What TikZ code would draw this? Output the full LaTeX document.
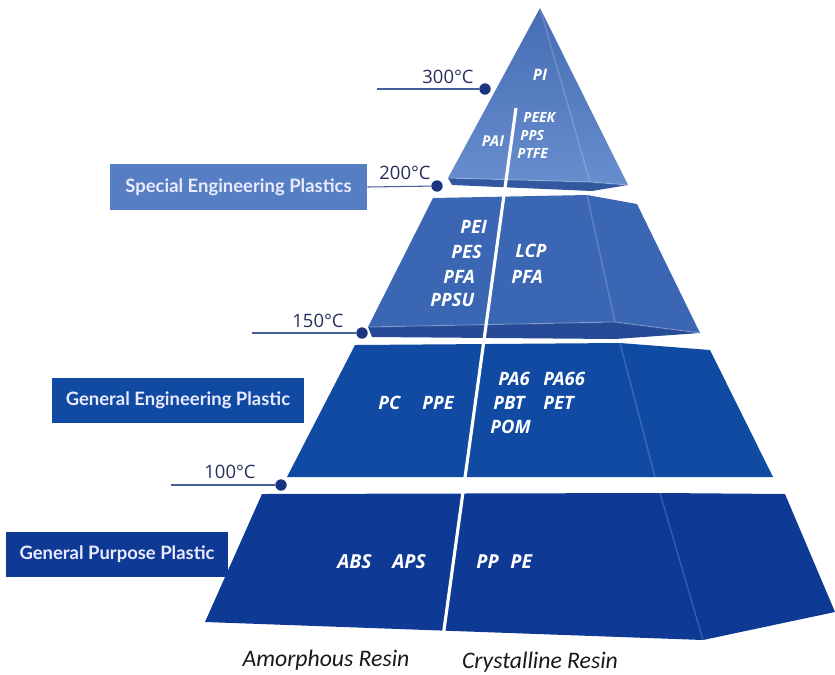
\documentclass[tikz,border=0pt]{standalone}
\usepackage{fontspec}
\setmainfont{Open Sans}
\newfontfamily\boxfont{Lato}
\newfontfamily\resinfont{Carlito}
\usetikzlibrary{positioning}

\definecolor{topA}{RGB}{70,108,180}
\definecolor{frontA}{RGB}{86,126,194}
\definecolor{lowA}{RGB}{104,142,206}
\definecolor{lipA}{RGB}{52,88,160}
\definecolor{frontB}{RGB}{58,102,180}
\definecolor{lipB}{RGB}{38,74,150}
\definecolor{frontC}{RGB}{16,74,163}
\definecolor{frontD}{RGB}{14,58,150}
\definecolor{navy}{RGB}{26,52,130}
\definecolor{tempink}{RGB}{40,46,92}

\tikzstyle{gradebox}=[rectangle, inner sep=0pt, text=white!92!blue, font=\boxfont\bfseries\fontsize{10.5}{12}\selectfont]
\tikzstyle{polymer}=[inner sep=0pt, text=white, font=\bfseries\itshape\fontsize{10.5}{12}\selectfont]
\tikzstyle{polysmall}=[polymer, font=\bfseries\itshape\fontsize{8}{9}\selectfont]
\tikzstyle{temp}=[inner sep=0pt, text=tempink, font=\fontsize{10.5}{12}\selectfont]
\tikzstyle{tdot}=[circle, fill=navy, minimum size=6.5pt, inner sep=0pt]
\tikzstyle{tline}=[draw=navy!80, line width=0.6pt]
\tikzstyle{edge}=[draw=white, opacity=0.18, line width=0.8pt]
\tikzstyle{resin}=[inner sep=0pt, text=black!90, font=\resinfont\itshape\fontsize{13.5}{15}\selectfont]

\begin{document}
\begin{tikzpicture}[x=0.02cm,y=-0.02cm]
\useasboundingbox (0,0) rectangle (835,674);

% top tier
\fill[lipA] (448,178) -- (590,182) -- (628,185) -- (592,191) -- (452,185) -- cycle;
\shade[top color=topA, bottom color=lowA] (540,8) -- (448,178) -- (590,182) -- (628,185) -- cycle;
\draw[edge] (540,8) -- (590,182);
\draw[edge] (448,178) -- (590,182) -- (628,185);
% special tier
\fill[lipB] (368,327) -- (615,322) -- (700,333) -- (615,339) -- (372,337) -- cycle;
\fill[frontB] (433,198) -- (587,195) -- (637,204) -- (700,333) -- (615,322) -- (368,327) -- cycle;
\draw[edge] (587,195) -- (615,322);
\draw[edge] (368,327) -- (615,322) -- (700,333);
% engineering tier
\fill[frontC] (355,345) -- (620,343) -- (710,350) -- (773,477) -- (287,477) -- cycle;
\draw[edge] (620,343) -- (655,477);
% purpose tier
\fill[frontD] (262,494) -- (660,493) -- (785,494) -- (835,612) -- (703,640) -- (205,622) -- cycle;
\draw[edge] (660,493) -- (703,640);

\draw[white, line width=1.8pt] (516,108) -- (443,637);

% grade boxes
\node[gradebox, fill=frontA, minimum width=257*0.02cm, minimum height=46*0.02cm] (sep) at (238.5,187) {Special Engineering Plastics};
\node[gradebox, fill=frontC, minimum width=252*0.02cm, minimum height=45*0.02cm] (gep) at (178,400.5) {General Engineering Plastic};
\node[gradebox, fill=frontD, minimum width=222*0.02cm, minimum height=45*0.02cm] (gpp) at (117,554.5) {General Purpose Plastic};

% temperatures
\node[tdot] (d300) at (485,89) {};
\coordinate (e300) at (377,89);
\draw[tline] (e300) -- (d300);
\node[temp] (t300) at (448,77) {300°C};

\node[tdot] (d200) at (437,186) {};
\draw[tline] (sep.east) -- (d200);
\node[temp] (t200) at (405,173) {200°C};

\node[tdot] (d150) at (362,333) {};
\coordinate (e150) at (252,333);
\draw[tline] (e150) -- (d150);
\node[temp] (t150) at (318,321) {150°C};

\node[tdot] (d100) at (281,485) {};
\coordinate (e100) at (171,485);
\draw[tline] (e100) -- (d100);
\node[temp] (t100) at (230,472) {100°C};

% polymers
\node[polymer, font=\bfseries\itshape\fontsize{9}{10}\selectfont] (pi) at (540,75) {PI};
\node[polysmall, font=\bfseries\itshape\fontsize{8.5}{10}\selectfont] (pai) at (493,141) {PAI};
\node[polysmall, anchor=west] (peek) at (523,117) {PEEK};
\node[polysmall, anchor=west] (pps) at (520,135) {PPS};
\node[polysmall, anchor=west] (ptfe) at (517,153) {PTFE};

\node[polymer, anchor=west] (pei) at (460,227) {PEI};
\node[polymer, anchor=west] (pes) at (451,252) {PES};
\node[polymer, anchor=west] (pfaL) at (443,277) {PFA};
\node[polymer, anchor=west] (ppsu) at (430,300) {PPSU};
\node[polymer, anchor=west] (lcp) at (515,251) {LCP};
\node[polymer, anchor=west] (pfaR) at (511,277) {PFA};

\node[polymer, anchor=west] (pc) at (378,403) {PC};
\node[polymer, anchor=west] (ppe) at (422,403) {PPE};
\node[polymer, anchor=west] (pa6) at (498,379) {PA6};
\node[polymer, anchor=west] (pa66) at (543,379) {PA66};
\node[polymer, anchor=west] (pbt) at (493,403) {PBT};
\node[polymer, anchor=west] (pet) at (543,403) {PET};
\node[polymer, anchor=west] (pom) at (490,427) {POM};

\node[polymer, anchor=west, font=\bfseries\itshape\fontsize{11}{12}\selectfont] (abs) at (337,562) {ABS};
\node[polymer, anchor=west, font=\bfseries\itshape\fontsize{11}{12}\selectfont] (aps) at (392,562) {APS};
\node[polymer, anchor=west, font=\bfseries\itshape\fontsize{11}{12}\selectfont] (pp) at (476,562) {PP};
\node[polymer, anchor=west, font=\bfseries\itshape\fontsize{11}{12}\selectfont] (pe) at (510,562) {PE};

% resin types
\node[resin] (amorph) at (326,660) {Amorphous Resin};
\node[resin] (cryst) at (540,662) {Crystalline Resin};
\end{tikzpicture}
\end{document}
